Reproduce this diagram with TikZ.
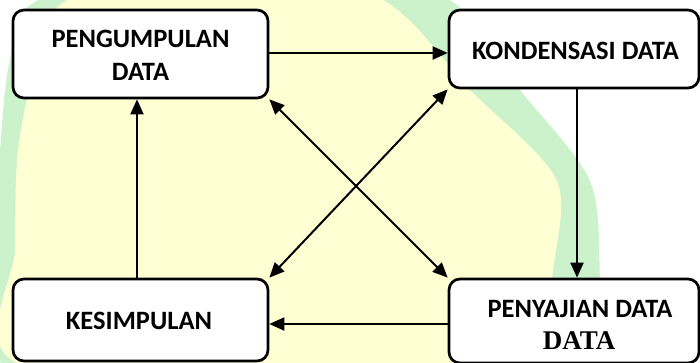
\documentclass[tikz,border=0pt]{standalone}
\usepackage{fontspec}
\setmainfont{Carlito}
\newfontfamily\timesfont{Liberation Serif}
\usetikzlibrary{arrows.meta}
\definecolor{wmyellow}{HTML}{FFFFD4}
\definecolor{wmgreen}{HTML}{CCF2CC}
\begin{document}
\begin{tikzpicture}[x=1pt,y=-1pt,
  box/.style={draw, line width=2.7pt, rounded corners=11pt, fill=white, inner sep=0pt},
  lbl/.style={font=\fontsize{26.5}{30}\selectfont\bfseries, anchor=base, inner sep=0pt},
  arr/.style={line width=2pt, -{Triangle[length=15pt,width=13pt]}},
  darr/.style={line width=2pt, {Triangle[length=15pt,width=13pt]}-{Triangle[length=15pt,width=13pt]}}]
\useasboundingbox (0,0) rectangle (700,362);
\begin{scope}
\clip (0,0) rectangle (700,362);
\fill[white] (0,0) rectangle (700,362);
\fill[wmgreen] plot[smooth cycle] coordinates {(38,0) (10,60) (0,150) (-5,250) (0,362) (300,430) (600,362) (600,280) (590,181) (520,90) (450,0) (260,-90)};
\fill[wmyellow] plot[smooth cycle] coordinates {(67,0) (37,60) (18,150) (15,250) (15,362) (300,400) (550,362) (552,280) (557,181) (470,90) (383,0) (225,-50)};
\end{scope}
\node[box, minimum width=255pt, minimum height=88pt] (A) at (140.5,54) {};
\node[box, minimum width=250pt, minimum height=78pt] (B) at (574,49) {};
\node[box, minimum width=255pt, minimum height=82pt] (C) at (140.5,320) {};
\node[box, minimum width=250pt, minimum height=84pt] (D) at (574,321) {};
\node[lbl] (ta1) at (140.5,47) {PENGUMPULAN};
\node[lbl] (ta2) at (140.5,80) {DATA};
\node[lbl] (tb) at (575.5,59) {KONDENSASI DATA};
\node[lbl] (tc) at (139,329) {KESIMPULAN};
\node[lbl] (td1) at (580,317) {PENYAJIAN DATA};
\node[lbl, font=\fontsize{27}{30}\selectfont\timesfont\bfseries] (td2) at (579,349) {DATA};
\draw[arr] ([yshift=1pt]A.east) -- ([yshift=1pt]A.east -| B.west);
\draw[arr] ([xshift=3pt]B.south) -- ([xshift=3pt]D.north);
\draw[arr] ([yshift=-3pt]D.west) -- ([yshift=-3pt]D.west -| C.east);
\draw[arr] ([xshift=-3.5pt]C.north) -- ([xshift=-3.5pt]C.north |- A.south);
\draw[darr] (A.south east) -- (D.north west);
\draw[darr] (B.south west) -- (C.north east);
\end{tikzpicture}
\end{document}
